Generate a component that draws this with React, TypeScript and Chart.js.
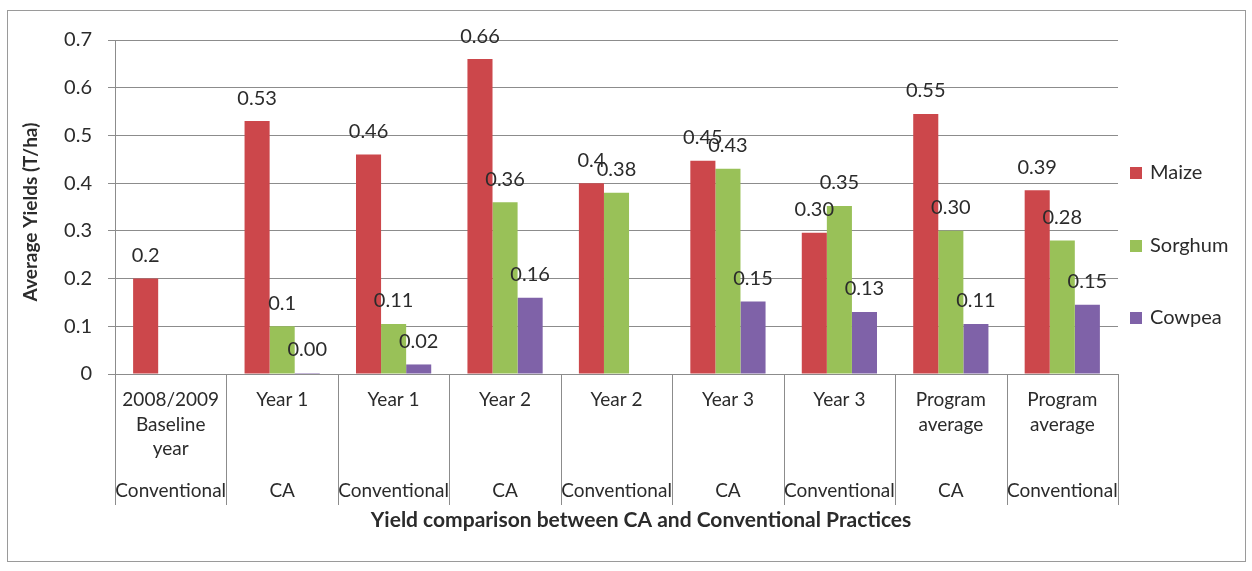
import React, { useEffect, useRef } from "react";
import { Chart, registerables } from "chart.js";

Chart.register(...registerables);

const categoryLines: string[][] = [
  ["2008/2009", "Baseline", "year"],
  ["Year 1"],
  ["Year 1"],
  ["Year 2"],
  ["Year 2"],
  ["Year 3"],
  ["Year 3"],
  ["Program", "average"],
  ["Program", "average"],
];
const practices: string[] = [
  "Conventional", "CA", "Conventional", "CA", "Conventional", "CA", "Conventional", "CA", "Conventional",
];
const seriesNames: string[] = ["Maize", "Sorghum", "Cowpea"];
const seriesColors: string[] = ["#CC474B", "#99C158", "#7F62A8"];

const maize: (number | null)[] = [0.2, 0.53, 0.46, 0.66, 0.4, 0.447, 0.296, 0.545, 0.385];
const sorghum: (number | null)[] = [null, 0.1, 0.105, 0.36, 0.38, 0.43, 0.352, 0.3, 0.28];
const cowpea: (number | null)[] = [null, 0.002, 0.02, 0.16, null, 0.152, 0.13, 0.105, 0.145];

const maizeLabels: string[] = ["0.2", "0.53", "0.46", "0.66", "0.4", "0.45", "0.30", "0.55", "0.39"];
const sorghumLabels: string[] = ["", "0.1", "0.11", "0.36", "0.38", "0.43", "0.35", "0.30", "0.28"];
const cowpeaLabels: string[] = ["", "0.00", "0.02", "0.16", "", "0.15", "0.13", "0.11", "0.15"];

const yTickLabels: string[] = ["0", "0.1", "0.2", "0.3", "0.4", "0.5", "0.6", "0.7"];

const yTitle = "Average Yields (T/ha)";
const xTitle = "Yield comparison between CA and Conventional Practices";

const FONT = "Lato, 'Open Sans', sans-serif";
const TEXT = "#2b2b2b";
const GRID = "#8c8c8c";

export default function App() {
  const ref = useRef<HTMLCanvasElement | null>(null);

  useEffect(() => {
    const canvas = ref.current;
    if (!canvas) return;
    const allLabels = [maizeLabels, sorghumLabels, cowpeaLabels];

    const decor = {
      id: "decor",
      beforeDraw(chart: any) {
        const ctx = chart.ctx;
        ctx.save();
        ctx.fillStyle = "#ffffff";
        ctx.fillRect(0, 0, chart.width, chart.height);
        ctx.strokeStyle = "#9a9a9a";
        ctx.lineWidth = 1;
        ctx.strokeRect(7.5, 10.5, 1238, 551);
        ctx.restore();
      },
      afterDraw(chart: any) {
        const ctx = chart.ctx;
        const xs = chart.scales.x;
        const area = chart.chartArea;
        const n = categoryLines.length;
        ctx.save();
        // dividers
        ctx.strokeStyle = GRID;
        ctx.lineWidth = 1;
        for (let i = 0; i <= n; i++) {
          let x: number;
          if (i === 0) x = area.left;
          else if (i === n) x = area.right;
          else x = (xs.getPixelForValue(i - 1) + xs.getPixelForValue(i)) / 2;
          x = Math.round(x) + 0.5;
          ctx.beginPath();
          ctx.moveTo(x, area.bottom);
          ctx.lineTo(x, 505);
          ctx.stroke();
        }
        // category labels
        ctx.fillStyle = TEXT;
        ctx.textAlign = "center";
        ctx.textBaseline = "middle";
        ctx.font = `19px ${FONT}`;
        for (let i = 0; i < n; i++) {
          const cx = xs.getPixelForValue(i);
          categoryLines[i].forEach((t, k) => ctx.fillText(t, cx, 400 + 24.5 * k));
          ctx.fillText(practices[i], cx, 491);
        }
        // data labels
        ctx.font = `20px ${FONT}`;
        chart.data.datasets.forEach((ds: any, di: number) => {
          const meta = chart.getDatasetMeta(di);
          meta.data.forEach((el: any, i: number) => {
            const txt = allLabels[di][i];
            if (!txt || ds.data[i] === null) return;
            ctx.fillText(txt, el.x, el.y - 23);
          });
        });
        // axis titles
        ctx.font = `bold 21px ${FONT}`;
        ctx.fillText(xTitle, 641, 520);
        ctx.font = `bold 19px ${FONT}`;
        ctx.save();
        ctx.translate(31, 212);
        ctx.rotate(-Math.PI / 2);
        ctx.fillText(yTitle, 0, 0);
        ctx.restore();
        // legend
        ctx.font = `20px ${FONT}`;
        ctx.textAlign = "left";
        const ly = [173, 246, 318];
        seriesNames.forEach((name, k) => {
          ctx.fillStyle = seriesColors[k];
          ctx.fillRect(1130, ly[k] - 6, 12, 12);
          ctx.fillStyle = TEXT;
          ctx.fillText(name, 1150, ly[k]);
        });
        ctx.restore();
      },
    };

    const chart = new Chart(canvas, {
      type: "bar",
      data: {
        labels: categoryLines.map((l) => l.join(" ")),
        datasets: [maize, sorghum, cowpea].map((d, k) => ({
          label: seriesNames[k],
          data: d,
          backgroundColor: seriesColors[k],
          borderWidth: 0,
          barPercentage: 1,
          categoryPercentage: 0.675,
        })),
      },
      options: {
        animation: false,
        responsive: false,
        maintainAspectRatio: false,
        layout: { padding: { left: 0, top: 40, right: 134, bottom: 0 } },
        plugins: { legend: { display: false }, tooltip: { enabled: false } },
        scales: {
          x: {
            grid: { display: false },
            ticks: { display: false },
            border: { display: true, color: GRID },
            afterFit: (s: any) => {
              s.height = 571 - 374;
            },
          },
          y: {
            min: 0,
            max: 0.7,
            ticks: {
              stepSize: 0.1,
              padding: 16,
              color: TEXT,
              font: { family: FONT, size: 20 },
              callback: (_v: any, i: number) => yTickLabels[i],
            },
            grid: { color: GRID, tickLength: 7, drawTicks: true },
            border: { display: true, color: GRID },
            afterFit: (s: any) => {
              s.width = 115;
            },
          },
        },
      },
      plugins: [decor],
    });
    return () => chart.destroy();
  }, []);

  return (
    <div style={{ position: "absolute", left: 0, top: 0, width: 1252, height: 571 }}>
      <canvas ref={ref} width={1252} height={571} style={{ width: 1252, height: 571, display: "block" }} />
    </div>
  );
}
